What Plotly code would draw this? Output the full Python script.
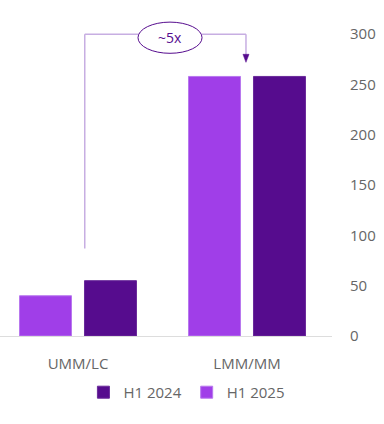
import plotly.graph_objects as go

categories = ["UMM/LC", "LMM/MM"]
h1_2025 = [40, 258]
h1_2024 = [55, 258]
y_ticks = [0, 50, 100, 150, 200, 250, 300]

LIGHT = "#a03ee8"
DARK = "#560c8e"
LINE = "#c7aee2"
FONT = "Open Sans"
GRAY = "#666666"

fig = go.Figure()
fig.add_trace(go.Bar(x=categories, y=h1_2025, name="H1 2025", marker_color=LIGHT,
                     marker_line=dict(color="#b878ee", width=1), legendrank=2))
fig.add_trace(go.Bar(x=categories, y=h1_2024, name="H1 2024", marker_color=DARK,
                     marker_line=dict(color="#6a2a9a", width=1), legendrank=1))

# bracket annotation
fig.add_shape(type="line", xref="x", yref="y", x0=0.04, x1=0.04, y0=87, y1=300,
              line=dict(color=LINE, width=1.5))
fig.add_shape(type="line", xref="x", yref="y", x0=0.04, x1=0.36, y0=300, y1=300,
              line=dict(color=LINE, width=1.5))
fig.add_shape(type="line", xref="x", yref="y", x0=0.73, x1=0.994, y0=300, y1=300,
              line=dict(color=LINE, width=1.5))
fig.add_shape(type="line", xref="x", yref="y", x0=0.994, x1=0.994, y0=300, y1=278,
              line=dict(color=LINE, width=1.5))
fig.add_shape(type="path", xref="x", yref="y",
              path="M 0.976,280 L 1.012,280 L 0.994,272 Z",
              fillcolor=DARK, line=dict(color=DARK, width=0.5))
fig.add_shape(type="circle", xref="x", yref="y", x0=0.355, x1=0.734, y0=281, y1=312,
              fillcolor="white", line=dict(color=DARK, width=1))
fig.add_annotation(x=0.544, y=296.5, xref="x", yref="y", text="~5x", showarrow=False,
                   font=dict(family=FONT, size=14, color=DARK))

fig.update_layout(
    width=384, height=424,
    margin=dict(l=0, r=52, t=4, b=88),
    plot_bgcolor="white", paper_bgcolor="white",
    barmode="group", bargap=0.231, bargroupgap=0.2,
    font=dict(family=FONT, size=15, color=GRAY),
    showlegend=True,
    legend=dict(orientation="h", x=0.563, xanchor="center", y=-0.17, yanchor="middle",
                font=dict(size=15, color=GRAY), itemwidth=30, traceorder="normal"),
    xaxis=dict(range=[-0.4615, 1.503], showline=True, linecolor="#dddddd", linewidth=1,
               ticks="outside", ticklen=14, tickcolor="rgba(0,0,0,0)",
               tickfont=dict(size=15, color=GRAY), showgrid=False),
    yaxis=dict(range=[0, 330], side="right", tickvals=y_ticks, showgrid=False,
               zeroline=False, showline=False, ticks="outside", ticklen=14,
               tickcolor="rgba(0,0,0,0)", tickfont=dict(size=15, color=GRAY)),
)

fig.write_html("out.html", config={"displayModeBar": False},
               post_script="document.body.style.margin='0';")
